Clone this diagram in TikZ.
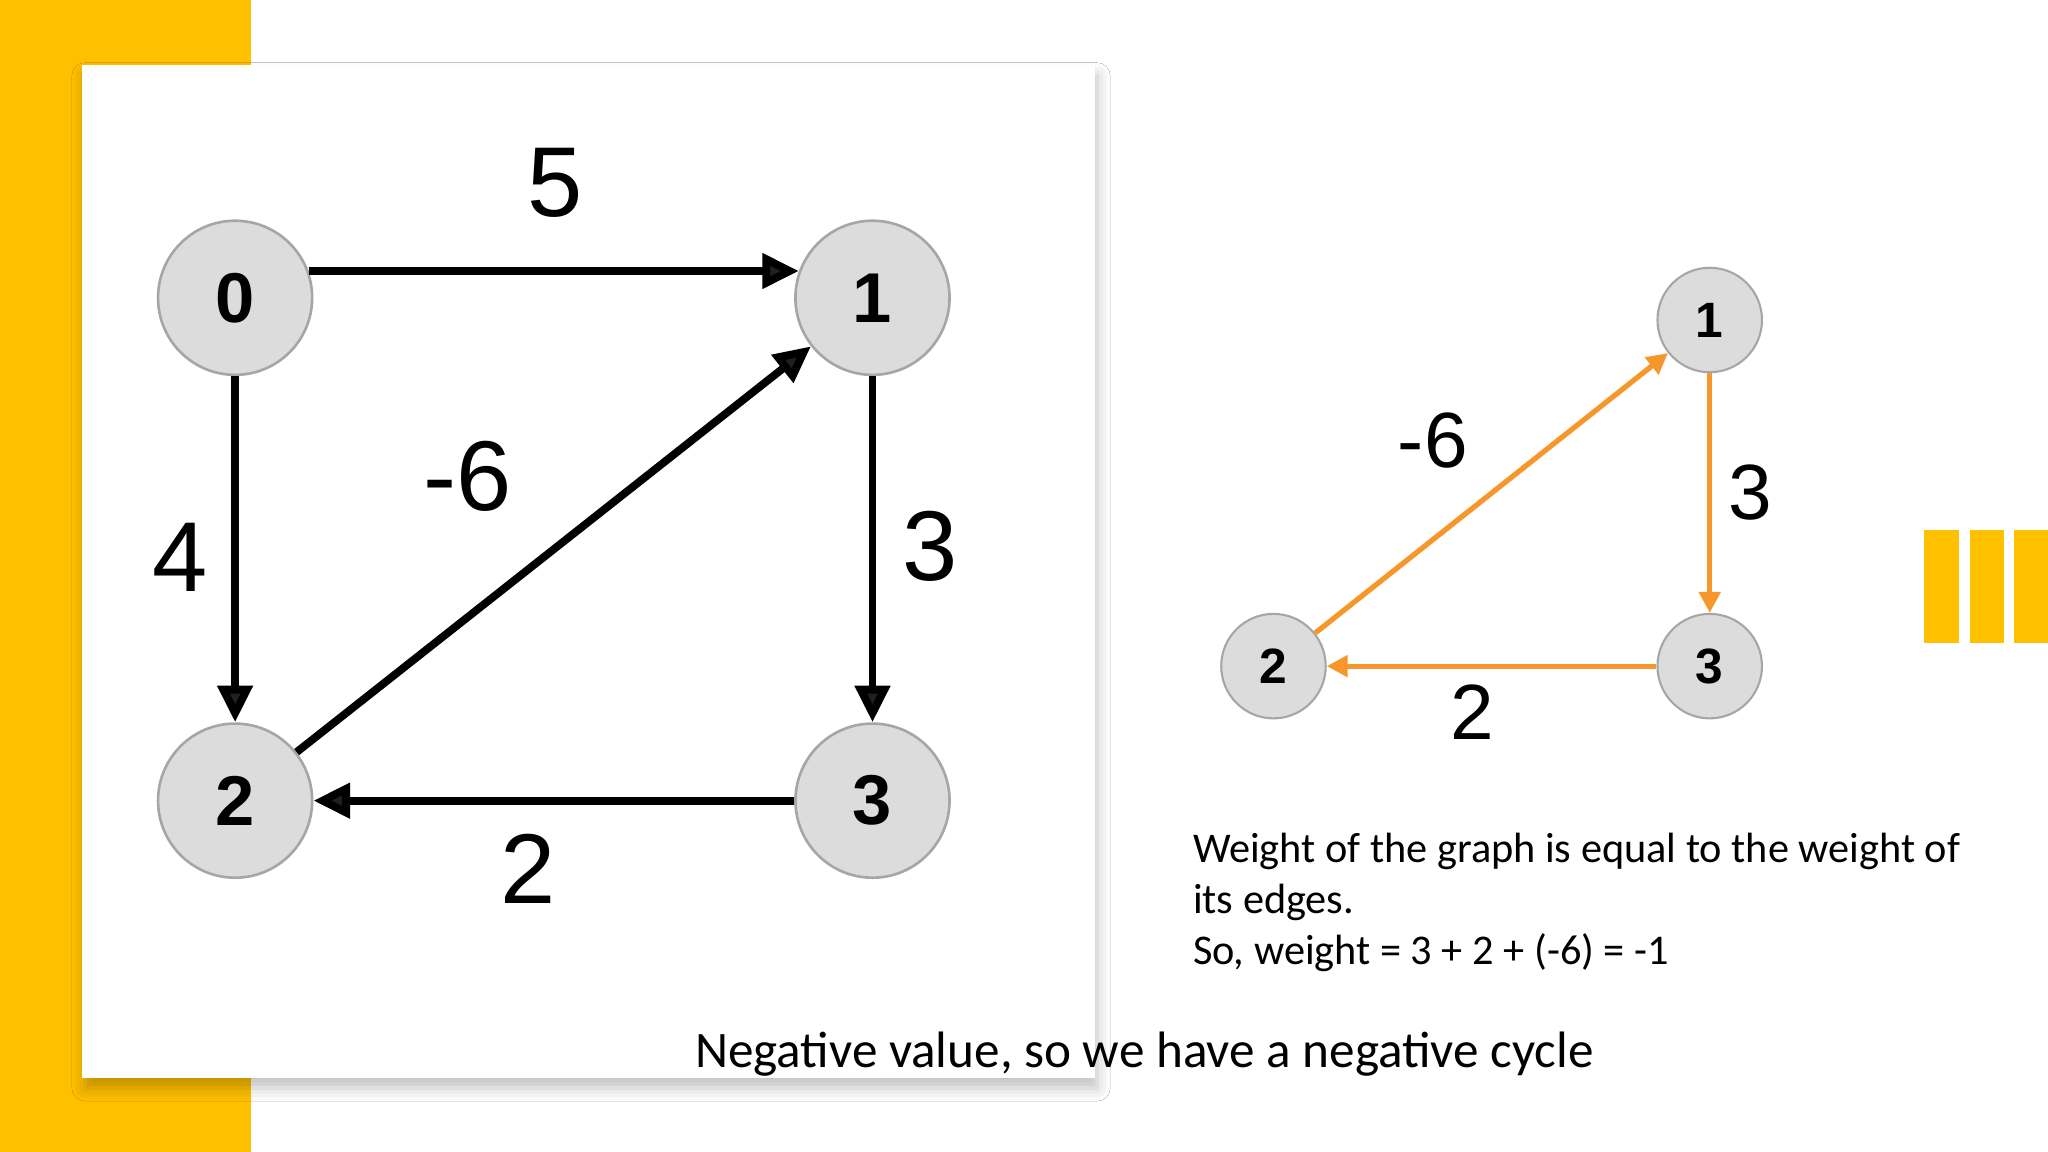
\documentclass[tikz,border=0pt]{standalone}
\usepackage{fontspec}
\setmainfont{Carlito}
\newfontfamily\lab{Liberation Sans}
\usetikzlibrary{arrows.meta,shadows.blur}
\definecolor{ygold}{HTML}{FFC000}
\definecolor{ndfill}{HTML}{DCDCDC}
\definecolor{orng}{HTML}{F7962A}
\begin{document}
\begin{tikzpicture}[x=0.5pt,y=-0.5pt,
  bignode/.style={circle,draw=gray!70,line width=1pt,fill=ndfill,minimum size=59pt,inner sep=0,font=\lab\bfseries\fontsize{27}{27}\selectfont},
  smallnode/.style={circle,draw=gray!70,line width=0.8pt,fill=ndfill,minimum size=40pt,inner sep=0,font=\lab\bfseries\fontsize{19}{19}\selectfont},
  bigedge/.style={line width=3pt,-{Triangle[length=14pt,width=13pt]}},
  oedge/.style={orng,line width=2pt,-{Triangle[length=8pt,width=8pt]}},
  biglab/.style={font=\lab\fontsize{38}{38}\selectfont},
  smalllab/.style={font=\lab\fontsize{30}{30}\selectfont}]
\useasboundingbox (0,0) rectangle (1568,882);
\fill[white] (0,0) rectangle (1568,882);
\fill[ygold] (0,0) rectangle (192,882);
\fill[white,blur shadow={shadow xshift=1pt,shadow yshift=-4pt,shadow blur radius=5pt,shadow opacity=25}] (63,50) rectangle (838,825);
\node[bignode] (a0) at (180,228) {0};
\node[bignode] (a1) at (668,228) {1};
\node[bignode] (a2) at (180,613) {2};
\node[bignode] (a3) at (668,613) {3};
\draw[bigedge] (a0.20) -- (a1.160);
\draw[bigedge] (a0) -- (a2);
\draw[bigedge] (a2) -- (a1);
\draw[bigedge] (a1) -- (a3);
\draw[bigedge] (a3) -- (a2);
\node[biglab] (l5) at (425,140) {5};
\node[biglab] (l4) at (138,427) {4};
\node[biglab] (l6) at (358,365) {-6};
\node[biglab] (l3) at (712,418) {3};
\node[biglab] (l2) at (404,665) {2};
\node[smallnode] (b1) at (1309,245) {1};
\node[smallnode] (b2) at (975,510) {2};
\node[smallnode] (b3) at (1309,510) {3};
\draw[oedge] (b2) -- (b1);
\draw[oedge] (b1) -- (b3);
\draw[oedge] (b3) -- (b2);
\node[smalllab] (m6) at (1097,337) {-6};
\node[smalllab] (m3) at (1340,377) {3};
\node[smalllab] (m2) at (1127,545) {2};
\node[anchor=west,font=\fontsize{16.2}{19.5}\selectfont,align=left,inner sep=0] (txt) at (913,691) {Weight of the graph is equal to the weight of\\its edges.\\So, weight = 3 + 2 + (-6) = -1};
\node[font=\fontsize{19.6}{24}\selectfont,inner sep=0] (neg) at (876,807) {Negative value, so we have a negative cycle};
\fill[ygold] (1473,406) rectangle (1500,492);
\fill[ygold] (1508,406) rectangle (1534,492);
\fill[ygold] (1542,406) rectangle (1568,492);
\end{tikzpicture}
\end{document}
